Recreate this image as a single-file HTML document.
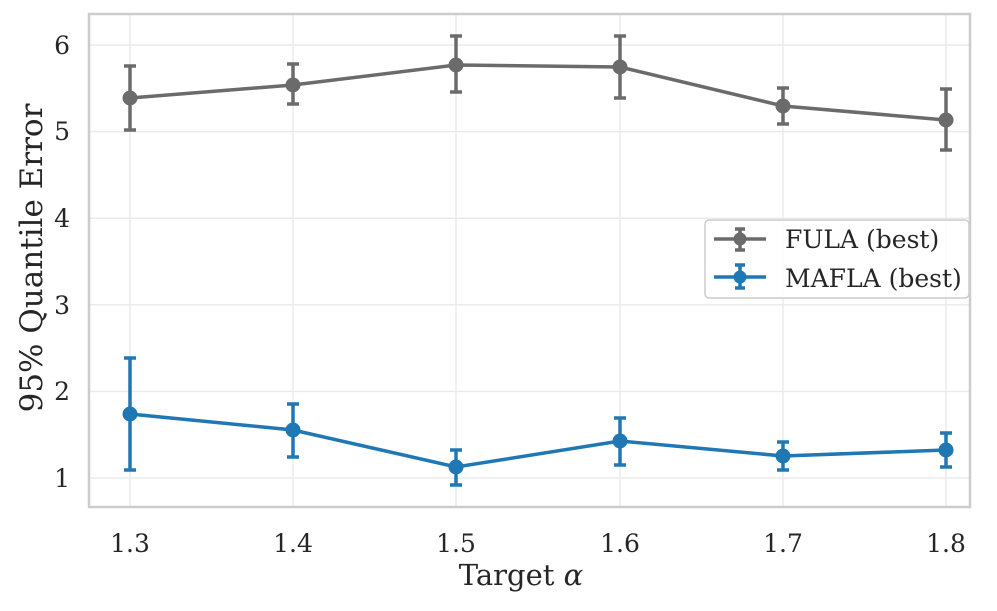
<!DOCTYPE html>
<html><head><style>body{margin:0;background:#fff}svg text{font-family:"DejaVu Serif","Liberation Serif",serif;fill:#262626}</style></head>
<body>
<svg width="997" height="606" xmlns="http://www.w3.org/2000/svg">
<rect x="0" y="0" width="997" height="606" fill="#fff"/>
<g stroke="#ebebeb" stroke-width="1.5">
<line x1="130" y1="14" x2="130" y2="507"/><line x1="293" y1="14" x2="293" y2="507"/><line x1="456" y1="14" x2="456" y2="507"/><line x1="620" y1="14" x2="620" y2="507"/><line x1="783" y1="14" x2="783" y2="507"/><line x1="946" y1="14" x2="946" y2="507"/>
<line x1="89" y1="478" x2="970" y2="478"/><line x1="89" y1="391.4" x2="970" y2="391.4"/><line x1="89" y1="304.8" x2="970" y2="304.8"/><line x1="89" y1="218.2" x2="970" y2="218.2"/><line x1="89" y1="131.6" x2="970" y2="131.6"/><line x1="89" y1="45" x2="970" y2="45"/>
</g>
<rect x="89" y="14" width="881" height="493" fill="none" stroke="#cccccc" stroke-width="2.5"/>
<g font-size="25" text-anchor="middle">
<text x="130" y="552">1.3</text><text x="293" y="552">1.4</text><text x="456" y="552">1.5</text><text x="620" y="552">1.6</text><text x="783" y="552">1.7</text><text x="946" y="552">1.8</text>
</g>
<g font-size="25" text-anchor="end">
<text x="70" y="487">1</text><text x="70" y="400">2</text><text x="70" y="314">3</text><text x="70" y="227">4</text><text x="70" y="140">5</text><text x="70" y="54">6</text>
</g>
<text x="521" y="585" font-size="29" text-anchor="middle">Target <tspan font-style="italic">α</tspan></text>
<text transform="translate(42,258) rotate(-90)" font-size="31" text-anchor="middle">95% Quantile Error</text>
<g stroke="#6b6b6b" stroke-width="3.5" fill="#6b6b6b">
<polyline fill="none" points="130,98 293,85 456,65 620,67 783,106 946,120"/>
<path d="M130 66V130M293 64V104M456 36V92M620 36V98M783 88V124M946 89V150M124 66H136M124 130H136M287 64H299M287 104H299M450 36H462M450 92H462M614 36H626M614 98H626M777 88H789M777 124H789M940 89H952M940 150H952"/>
<g stroke="none"><circle cx="130" cy="98" r="7.5"/><circle cx="293" cy="85" r="7.5"/><circle cx="456" cy="65" r="7.5"/><circle cx="620" cy="67" r="7.5"/><circle cx="783" cy="106" r="7.5"/><circle cx="946" cy="120" r="7.5"/></g>
</g>
<g stroke="#1f77b4" stroke-width="3.5" fill="#1f77b4">
<polyline fill="none" points="130,414 293,430 456,467 620,441 783,456 946,450"/>
<path d="M130 358V470M293 404V457M456 450V485M620 418V465M783 442V470M946 433V467M124 358H136M124 470H136M287 404H299M287 457H299M450 450H462M450 485H462M614 418H626M614 465H626M777 442H789M777 470H789M940 433H952M940 467H952"/>
<g stroke="none"><circle cx="130" cy="414" r="7.5"/><circle cx="293" cy="430" r="7.5"/><circle cx="456" cy="467" r="7.5"/><circle cx="620" cy="441" r="7.5"/><circle cx="783" cy="456" r="7.5"/><circle cx="946" cy="450" r="7.5"/></g>
</g>
<rect x="705" y="220" width="264" height="78" rx="4" fill="#fff" fill-opacity="0.85" stroke="#cccccc" stroke-width="1.5"/>
<g stroke="#6b6b6b" stroke-width="3.5" fill="#6b6b6b"><path d="M714 239H766M740 229V250M735 229H745M735 250H745"/><circle cx="740" cy="239" r="6.5" stroke="none"/></g>
<g stroke="#1f77b4" stroke-width="3.5" fill="#1f77b4"><path d="M714 277H766M740 265V288M735 265H745M735 288H745"/><circle cx="740" cy="277" r="6.5" stroke="none"/></g>
<text x="785" y="248" font-size="25">FULA (best)</text>
<text x="785" y="287" font-size="25">MAFLA (best)</text>
</svg>
</body></html>
